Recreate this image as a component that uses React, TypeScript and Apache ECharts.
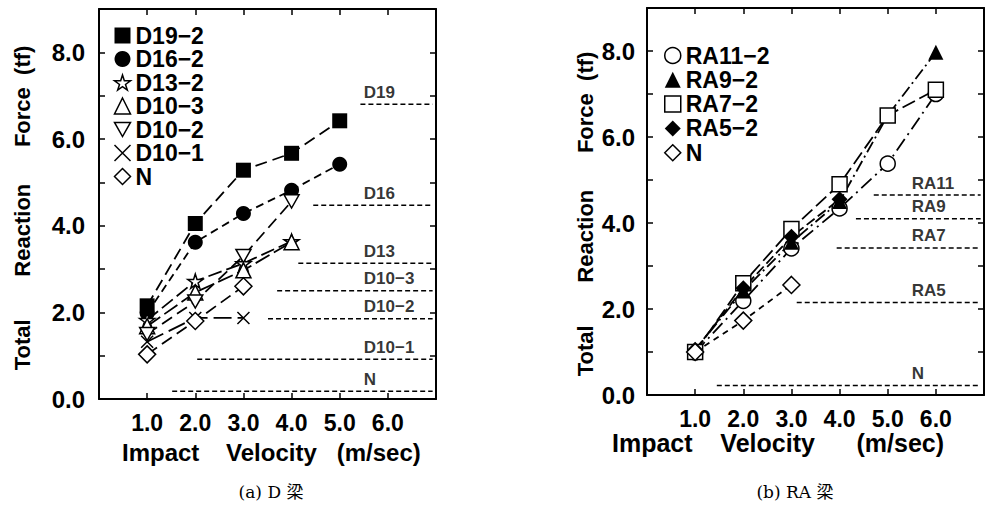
import React, { useEffect, useRef } from "react";
import * as echarts from "echarts";

// ---------- DATA ----------
const xVelocity = [1, 2, 3, 4, 5, 6];

// (a) D beams
const dNames = ["D19−2", "D16−2", "D13−2", "D10−3", "D10−2", "D10−1", "N"];
const d19_2 = [2.15, 4.05, 5.28, 5.67, 6.42];
const d16_2 = [1.98, 3.62, 4.28, 4.82, 5.42];
const d13_2 = [1.82, 2.72, 3.13, 3.64];
const d10_3 = [1.68, 2.46, 2.97, 3.62];
const d10_2 = [1.5, 2.25, 3.3, 4.56];
const d10_1 = [1.32, 1.87, 1.87];
const dN = [1.03, 1.8, 2.6];
const dSeries = [d19_2, d16_2, d13_2, d10_3, d10_2, d10_1, dN];

const dRefNames = ["D19", "D16", "D13", "D10−3", "D10−2", "D10−1", "N"];
const dRefValues = [6.8, 4.47, 3.13, 2.5, 1.85, 0.92, 0.18];
const dRefStart = [5.43, 4.45, 4.14, 3.7, 3.51, 2.04, 1.52];

// (b) RA beams
const raNames = ["RA11−2", "RA9−2", "RA7−2", "RA5−2", "N"];
const ra11_2 = [0.99, 2.19, 3.41, 4.34, 5.38, 7.0];
const ra9_2 = [1.05, 2.42, 3.55, 4.5, 6.5, 7.97];
const ra7_2 = [1.0, 2.6, 3.86, 4.9, 6.5, 7.1];
const ra5_2 = [1.05, 2.48, 3.68, 4.55];
const raN = [1.0, 1.73, 2.56];
const raSeries = [ra11_2, ra9_2, ra7_2, ra5_2, raN];

const raRefNames = ["RA11", "RA9", "RA7", "RA5", "N"];
const raRefValues = [4.65, 4.1, 3.42, 2.15, 0.22];
const raRefStart = [4.71, 4.34, 3.94, 3.11, 1.45];

const yTicks = [0, 2, 4, 6, 8];
const xTicks = [1, 2, 3, 4, 5, 6];

// ---------- STYLE ----------
const FONT = "'Liberation Sans', Arial, Helvetica, sans-serif";
const STAR = "path://M50,0 L61,35 L98,35 L68,57 L79,91 L50,70 L21,91 L32,57 L2,35 L39,35 Z";
const DOWN_TRI = "path://M0,0 L100,0 L50,88 Z";
const CROSS = "path://M0,0 L100,100 M100,0 L0,100";

type Mk = { symbol: string; fill: string; size: number; dash: number[] };
const dMarks: Mk[] = [
  { symbol: "rect", fill: "#000", size: 15, dash: [12, 6] },
  { symbol: "circle", fill: "#000", size: 15, dash: [8, 5] },
  { symbol: STAR, fill: "#fff", size: 15, dash: [14, 5] },
  { symbol: "triangle", fill: "#fff", size: 15, dash: [16, 5] },
  { symbol: DOWN_TRI, fill: "#fff", size: 15, dash: [12, 6] },
  { symbol: CROSS, fill: "none", size: 12, dash: [18, 6] },
  { symbol: "diamond", fill: "#fff", size: 17, dash: [12, 6] },
];
const raMarks: Mk[] = [
  { symbol: "circle", fill: "#fff", size: 15, dash: [14, 5, 2, 5] },
  { symbol: "triangle", fill: "#000", size: 15, dash: [12, 4, 2, 4] },
  { symbol: "rect", fill: "#fff", size: 15, dash: [14, 5] },
  { symbol: "diamond", fill: "#000", size: 16, dash: [10, 4] },
  { symbol: "diamond", fill: "#fff", size: 17, dash: [6, 5] },
];

const LABEL_X = 5.5;

function pad(n: number) {
  return "\u00a0".repeat(n);
}

export default function App() {
  const ref = useRef<HTMLDivElement>(null);
  useEffect(() => {
    if (!ref.current) return;
    const chart = echarts.init(ref.current, undefined, { renderer: "svg" });

    const axisLine = { show: true, onZero: false, lineStyle: { color: "#000", width: 2 } };
    const tick = { show: true, inside: true, length: 6, lineStyle: { color: "#000", width: 1.5 } };

    const xBottom = (grid: number) => ({
      type: "value",
      gridIndex: grid,
      position: "bottom",
      min: 0,
      max: 7,
      interval: 1,
      axisLine,
      axisTick: tick,
      splitLine: { show: false },
      axisLabel: {
        margin: 12,
        color: "#000",
        fontFamily: FONT,
        fontWeight: "bold",
        fontSize: 23,
        formatter: (v: number) => (xTicks.includes(v) ? v.toFixed(1) : ""),
      },
    });
    const xTop = (grid: number) => ({
      type: "value",
      gridIndex: grid,
      position: "top",
      min: 0,
      max: 7,
      interval: 1,
      axisLine,
      axisTick: tick,
      splitLine: { show: false },
      axisLabel: { show: false },
    });
    const yLeft = (grid: number, margin: number) => ({
      type: "value",
      gridIndex: grid,
      position: "left",
      min: 0,
      max: 9,
      interval: 1,
      axisLine,
      axisTick: tick,
      splitLine: { show: false },
      axisLabel: {
        margin,
        color: "#000",
        fontFamily: FONT,
        fontWeight: "bold",
        fontSize: 24,
        formatter: (v: number) => (yTicks.includes(v) ? v.toFixed(1) : ""),
      },
    });
    const yRight = (grid: number) => ({
      type: "value",
      gridIndex: grid,
      position: "right",
      min: 0,
      max: 9,
      interval: 1,
      axisLine,
      axisTick: tick,
      splitLine: { show: false },
      axisLabel: { show: false },
    });

    const series: any[] = [];
    const makeSeries = (names: string[], data: number[][], marks: Mk[], xi: number, yi: number) => {
      names.forEach((name, i) => {
        const m = marks[i];
        series.push({
          type: "line",
          name,
          xAxisIndex: xi,
          yAxisIndex: yi,
          data: data[i].map((v, j) => [xVelocity[j], v]),
          symbol: m.symbol,
          symbolSize: m.size,
          symbolKeepAspect: true,
          showAllSymbol: true,
          lineStyle: { color: "#000", width: 1.8, type: m.dash },
          itemStyle: { color: m.fill, borderColor: "#000", borderWidth: m.fill === "#000" ? 0 : 1.5, opacity: 1 },
          z: 3,
        });
      });
    };
    makeSeries(dNames, dSeries, dMarks, 0, 0);
    makeSeries(raNames, raSeries, raMarks, 2, 2);

    const makeRefs = (names: string[], vals: number[], starts: number[], xi: number, yi: number) => {
      names.forEach((n, i) => {
        series.push({
          type: "line",
          name: "ref-" + n + xi,
          xAxisIndex: xi,
          yAxisIndex: yi,
          data: [
            [starts[i], vals[i]],
            [6.93, vals[i]],
          ],
          symbol: "none",
          lineStyle: { color: "#000", width: 1.5, type: [5, 3] },
          z: 2,
        });
      });
      series.push({
        type: "scatter",
        name: "reflabels" + xi,
        xAxisIndex: xi,
        yAxisIndex: yi,
        symbolSize: 1,
        itemStyle: { color: "transparent" },
        data: names.map((n, i) => ({ name: n, value: [LABEL_X, vals[i]] })),
        label: {
          show: true,
          position: "inside",
          align: "left",
          verticalAlign: "middle",
          offset: [0, -12],
          formatter: (p: any) => p.name,
          color: "#000",
          fontFamily: FONT,
          fontWeight: "bold",
          fontSize: 17,
        },
        z: 4,
      });
    };
    makeRefs(dRefNames, dRefValues, dRefStart, 0, 0);
    makeRefs(raRefNames, raRefValues, raRefStart, 2, 2);

    const legendData = (names: string[], marks: Mk[]) =>
      names.map((name, i) => ({
        name,
        icon: marks[i].symbol,
        itemStyle: {
          color: marks[i].fill,
          borderColor: "#000",
          borderWidth: marks[i].fill === "#000" ? 0 : 1.5,
        },
      }));

    const legendCommon = {
      orient: "vertical",
      selectedMode: false,
      itemWidth: 16,
      itemHeight: 16,
      padding: 0,
      textStyle: { color: "#000", fontFamily: FONT, fontWeight: "bold", fontSize: 23, lineHeight: 23 },
    };

    const titleStyle = { fill: "#000", fontFamily: FONT, fontWeight: "bold", fontSize: 22 };

    chart.setOption({
      animation: false,
      backgroundColor: "#fff",
      grid: [
        { left: 99, top: 9, width: 337, height: 390, containLabel: false },
        { left: 647, top: 8, width: 337, height: 387, containLabel: false },
      ],
      xAxis: [xBottom(0), xTop(0), xBottom(1), xTop(1)],
      yAxis: [yLeft(0, 14), yRight(0), yLeft(1, 12), yRight(1)],
      legend: [
        { ...legendCommon, left: 112, top: 24, itemGap: 0.5, data: legendData(dNames, dMarks) },
        { ...legendCommon, left: 664, top: 44, itemGap: 1.3, data: legendData(raNames, raMarks) },
      ],
      series,
      graphic: [
        {
          type: "text",
          x: 22,
          y: 208,
          rotation: Math.PI / 2,
          style: {
            ...titleStyle,
            text: "Total" + pad(7) + "Reaction" + pad(6) + "Force" + pad(2) + "(tf)",
            align: "center",
            verticalAlign: "middle",
          },
        },
        {
          type: "text",
          x: 585,
          y: 214,
          rotation: Math.PI / 2,
          style: {
            ...titleStyle,
            text: "Total" + pad(7) + "Reaction" + pad(6) + "Force" + pad(2) + "(tf)",
            align: "center",
            verticalAlign: "middle",
          },
        },
        {
          type: "text",
          x: 122,
          y: 452,
          style: {
            ...titleStyle,
            fontSize: 24,
            text: "Impact" + pad(4) + "Velocity" + pad(3) + "(m/sec)",
            align: "left",
            verticalAlign: "middle",
          },
        },
        {
          type: "text",
          x: 612,
          y: 443,
          style: {
            ...titleStyle,
            fontSize: 25,
            text: "Impact" + pad(4) + "Velocity" + pad(6) + "(m/sec)",
            align: "left",
            verticalAlign: "middle",
          },
        },
        {
          type: "text",
          x: 271,
          y: 492,
          style: {
            text: "(a) D 梁",
            fill: "#000",
            fontFamily: "'DejaVu Serif', 'Liberation Serif', 'Noto Sans CJK JP', serif",
            fontSize: 17,
            align: "center",
            verticalAlign: "middle",
          },
        },
        {
          type: "text",
          x: 795,
          y: 492,
          style: {
            text: "(b) RA 梁",
            fill: "#000",
            fontFamily: "'DejaVu Serif', 'Liberation Serif', 'Noto Sans CJK JP', serif",
            fontSize: 17,
            align: "center",
            verticalAlign: "middle",
          },
        },
      ],
    });
    return () => chart.dispose();
  }, []);
  return (
    <div
      ref={ref}
      style={{ position: "fixed", left: 0, top: 0, width: 987, height: 506, background: "#fff" }}
    />
  );
}
